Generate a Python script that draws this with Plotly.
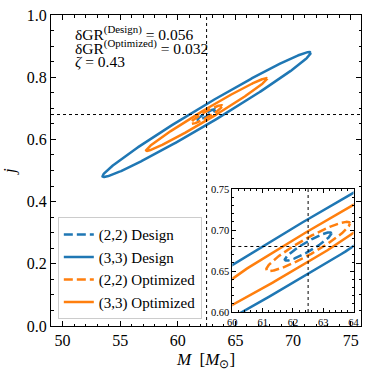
import numpy as np
import plotly.graph_objects as go

# injected values / ellipse parameters
M_TRUE = 62.5
J_TRUE = 0.68

labels = ["(2,2) Design", "(3,3) Design", "(2,2) Optimized", "(3,3) Optimized"]
colors = ["#1f77b4", "#1f77b4", "#ff7f0e", "#ff7f0e"]
dashes = ["9px,4px", "solid", "9px,4px", "solid"]
sigma_M = [0.77, 9.03, 1.38, 5.25]
sigma_j = [0.0173, 0.2008, 0.0301, 0.117]
rho = [0.926, 0.986, 0.93, 0.987]

main_yticks = [0.0, 0.2, 0.4, 0.6, 0.8, 1.0]
main_xticks = [50, 55, 60, 65, 70, 75]
inset_xticks = [60, 61, 62, 63, 64]
inset_yticks = [0.60, 0.65, 0.70, 0.75]

note_lines = [
    "δGR<sup>(Design)</sup> = 0.056",
    "δGR<sup>(Optimized)</sup> = 0.032",
    "<i>ζ</i> = 0.43",
]

FONT = "Liberation Serif, serif"


def ellipse(sm, sj, r, n=400):
    t = np.linspace(0, 2 * np.pi, n)
    m = M_TRUE + sm * np.cos(t)
    j = J_TRUE + sj * (r * np.cos(t) + np.sqrt(1 - r**2) * np.sin(t))
    return m, j


fig = go.Figure()
for i, name in enumerate(labels):
    m, j = ellipse(sigma_M[i], sigma_j[i], rho[i])
    line = dict(color=colors[i], width=2.5, dash=dashes[i])
    fig.add_trace(go.Scatter(x=m, y=j, mode="lines", name=name, line=line))
    fig.add_trace(
        go.Scatter(x=m, y=j, mode="lines", line=line, showlegend=False, xaxis="x2", yaxis="y2")
    )

axis_common = dict(
    showline=True,
    linecolor="black",
    linewidth=1,
    mirror="allticks",
    ticks="inside",
    ticklen=5,
    tickcolor="black",
    showgrid=False,
    zeroline=False,
)

fig.update_layout(
    width=374,
    height=374,
    paper_bgcolor="white",
    plot_bgcolor="white",
    margin=dict(l=51, r=7, t=12, b=48),
    font=dict(family=FONT, size=16, color="black"),
    xaxis=dict(
        axis_common,
        range=[49, 75.9],
        tickvals=main_xticks,
        minor=dict(ticks="inside", ticklen=2.5, dtick=1, tickcolor="black"),
        title=dict(text="<i>M</i>  [<i>M</i><sub>⊙</sub>]", standoff=4, font=dict(size=17)),
    ),
    yaxis=dict(
        axis_common,
        range=[0, 1],
        tickvals=main_yticks,
        tickformat=".1f",
        minor=dict(ticks="inside", ticklen=2.5, dtick=0.05, tickcolor="black"),
        title=dict(text="<i>j</i>", standoff=6, font=dict(size=17)),
    ),
    xaxis2=dict(
        axis_common,
        domain=[0.585, 0.976],
        anchor="y2",
        range=[60, 64],
        tickvals=inset_xticks,
        ticklen=4,
        tickfont=dict(size=10.5),
        minor=dict(ticks="inside", ticklen=2, dtick=0.2, tickcolor="black"),
    ),
    yaxis2=dict(
        axis_common,
        domain=[0.045, 0.44],
        anchor="x2",
        range=[0.6, 0.75],
        tickvals=inset_yticks,
        tickformat=".2f",
        ticklen=4,
        tickfont=dict(size=10.5),
        minor=dict(ticks="inside", ticklen=2, dtick=0.01, tickcolor="black"),
    ),
    legend=dict(
        x=0.022,
        y=0.022,
        xanchor="left",
        yanchor="bottom",
        bgcolor="rgba(255,255,255,0.85)",
        bordercolor="#cccccc",
        borderwidth=1,
        font=dict(size=15),
        tracegroupgap=0,
    ),
    showlegend=True,
)

dotted = dict(color="black", width=1, dash="dot")
fig.add_shape(type="line", xref="x", yref="y domain", x0=M_TRUE, x1=M_TRUE, y0=0, y1=1, line=dotted)
fig.add_shape(type="line", xref="x domain", yref="y", x0=0, x1=1, y0=J_TRUE, y1=J_TRUE, line=dotted)
fig.add_shape(type="line", xref="x2", yref="y2 domain", x0=M_TRUE, x1=M_TRUE, y0=0, y1=1, line=dotted)
fig.add_shape(type="line", xref="x2 domain", yref="y2", x0=0, x1=1, y0=J_TRUE, y1=J_TRUE, line=dotted)

# one annotation per line so the line spacing can follow the reference
note_y = [0.942, 0.898, 0.852]
for text, yy in zip(note_lines, note_y):
    fig.add_annotation(
        xref="paper",
        yref="paper",
        x=0.072,
        y=yy,
        xanchor="left",
        yanchor="middle",
        showarrow=False,
        text=text,
        font=dict(size=15.5),
    )

fig.write_html(
    "out.html",
    config={"displayModeBar": False},
    post_script="document.body.style.margin='0';",
)
